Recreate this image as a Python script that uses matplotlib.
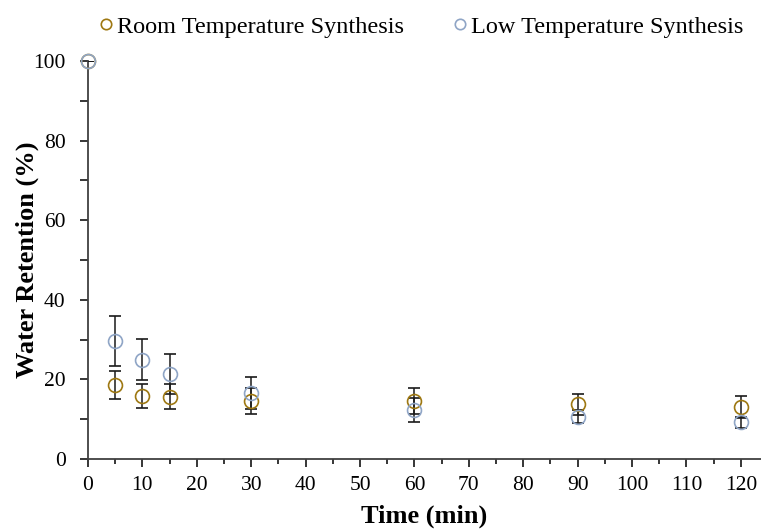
import matplotlib
matplotlib.use('Agg')
import matplotlib.pyplot as plt
from matplotlib.lines import Line2D
from matplotlib.ticker import MultipleLocator

# data
time_min = [0, 5, 10, 15, 30, 60, 90, 120]
room_mean = [100, 18.6, 15.9, 15.7, 14.6, 14.6, 13.7, 13.1]
room_err = [0, 3.4, 3.0, 3.1, 3.3, 3.2, 2.6, 2.8]
low_mean = [100, 29.7, 25.0, 21.4, 16.5, 12.3, 10.6, 9.2]
low_err = [0, 6.3, 5.1, 5.1, 4.0, 3.1, 1.6, 1.3]

room_color = '#9E7812'
low_color = '#8FA5C6'

plt.rcParams['font.family'] = ['Liberation Serif', 'DejaVu Serif']

fig = plt.figure(figsize=(7.61, 5.31), dpi=100)
ax = fig.add_axes([0.1156, 0.1356, 0.8844, 0.7495])

# room temperature series
room = ax.errorbar(time_min, room_mean, yerr=room_err, fmt='o', mfc='none', mec=room_color,
                   mew=1.2, ms=10, ecolor='#1a1a1a', elinewidth=1.1, capsize=4, capthick=1.1, zorder=3)
# low temperature series
low = ax.errorbar(time_min, low_mean, yerr=low_err, fmt='o', mfc='none', mec=low_color,
                  mew=1.2, ms=10, ecolor='#1a1a1a', elinewidth=1.1, capsize=4, capthick=1.1, zorder=3)
room[0].set_clip_on(False)
low[0].set_clip_on(False)

ax.set_xlim(0, 123.7)
ax.set_ylim(0, 100)
ax.xaxis.set_major_locator(MultipleLocator(10))
ax.xaxis.set_minor_locator(MultipleLocator(5))
ax.yaxis.set_major_locator(MultipleLocator(20))
ax.yaxis.set_minor_locator(MultipleLocator(10))

for s in ['top', 'right']:
    ax.spines[s].set_visible(False)
for s in ['left', 'bottom']:
    ax.spines[s].set_color('#404040')
    ax.spines[s].set_linewidth(1.3)

ax.tick_params(axis='x', which='major', direction='out', length=6, width=1.1, pad=6, labelsize=15.5)
ax.tick_params(axis='x', which='minor', direction='out', length=3.5, width=1.1)
ax.tick_params(axis='y', which='major', direction='out', length=6, width=1.1, pad=10, labelsize=15.5)
ax.tick_params(axis='y', which='minor', direction='out', length=6, width=1.1)

ax.set_xlabel('Time (min)', fontsize=19, fontweight='bold', labelpad=7)
ax.set_ylabel('Water Retention (%)', fontsize=19, fontweight='bold', labelpad=-4)

handles = [Line2D([], [], ls='none', marker='o', mfc='none', mec=room_color, mew=1.2, ms=7.5),
           Line2D([], [], ls='none', marker='o', mfc='none', mec=low_color, mew=1.2, ms=7.5)]
fig.legend(handles, ['Room Temperature Synthesis', 'Low Temperature Synthesis'],
           loc='upper center', bbox_to_anchor=(0.553, 1.012), ncol=2, frameon=False,
           fontsize=17.5, handlelength=0.6, handletextpad=0.15, columnspacing=2.0)

fig.savefig('out.png', dpi=100)
